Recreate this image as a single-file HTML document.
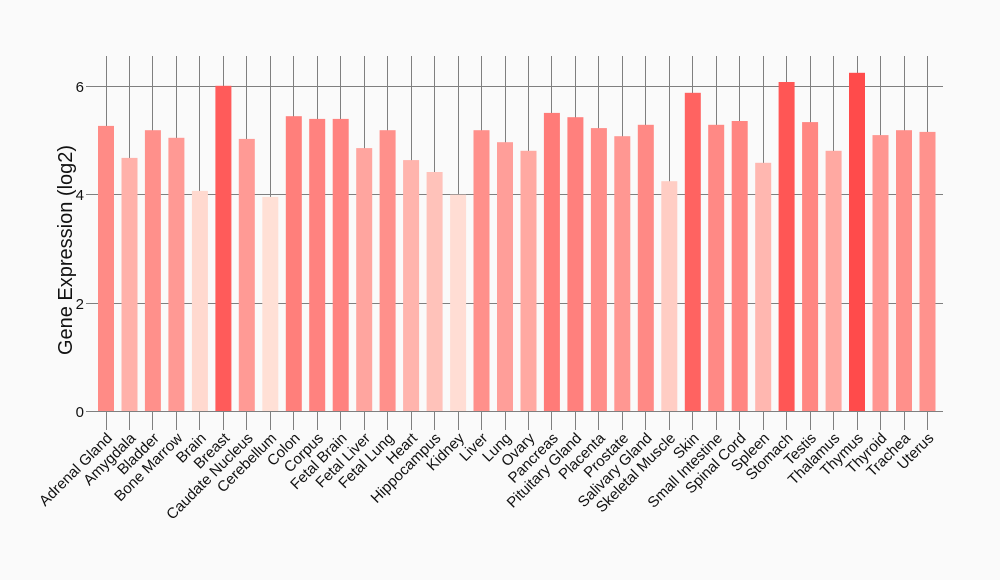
<!DOCTYPE html>
<html><head><meta charset="utf-8"><style>html,body{margin:0;padding:0;background:#fafafa}svg{display:block}text{font-family:"Liberation Sans",sans-serif}</style></head>
<body>
<svg width="1000" height="580" viewBox="0 0 1000 580">
<rect width="1000" height="580" fill="#fafafa"/>
<g stroke="#7f7f7f" stroke-width="1">
<line x1="90" y1="86.5" x2="943" y2="86.5"/><line x1="90" y1="194.5" x2="943" y2="194.5"/><line x1="90" y1="303.5" x2="943" y2="303.5"/><line x1="90" y1="411.5" x2="943" y2="411.5"/>
<line x1="86" y1="86.5" x2="90" y2="86.5"/><line x1="86" y1="194.5" x2="90" y2="194.5"/><line x1="86" y1="303.5" x2="90" y2="303.5"/><line x1="86" y1="411.5" x2="90" y2="411.5"/>
</g>
<g stroke="#7f7f7f" stroke-width="1">
<path d="M106.5 56V430M129.5 56V430M152.5 56V430M176.5 56V430M199.5 56V430M223.5 56V430M246.5 56V430M270.5 56V430M293.5 56V430M317.5 56V430M340.5 56V430M364.5 56V430M387.5 56V430M411.5 56V430M434.5 56V430M458.5 56V430M481.5 56V430M505.5 56V430M528.5 56V430M551.5 56V430M575.5 56V430M598.5 56V430M622.5 56V430M645.5 56V430M669.5 56V430M692.5 56V430M716.5 56V430M739.5 56V430M763.5 56V430M786.5 56V430M810.5 56V430M833.5 56V430M857.5 56V430M880.5 56V430M904.5 56V430M927.5 56V430"/>
</g>
<g>
<rect x="98" y="125.9" width="16" height="285.1" fill="rgb(255,139,134)"/>
<rect x="121.5" y="157.9" width="16" height="253.1" fill="rgb(255,177,170)"/>
<rect x="144.9" y="130.2" width="16" height="280.8" fill="rgb(255,144,139)"/>
<rect x="168.4" y="137.8" width="16" height="273.2" fill="rgb(255,153,148)"/>
<rect x="191.9" y="190.9" width="16" height="220.1" fill="rgb(255,217,207)"/>
<rect x="215.4" y="85.8" width="16" height="325.2" fill="rgb(255,91,90)"/>
<rect x="238.8" y="138.9" width="16" height="272.1" fill="rgb(255,154,149)"/>
<rect x="262.3" y="196.9" width="16" height="214.1" fill="rgb(255,224,214)"/>
<rect x="285.8" y="116.2" width="16" height="294.8" fill="rgb(255,127,123)"/>
<rect x="309.2" y="118.9" width="16" height="292.1" fill="rgb(255,130,127)"/>
<rect x="332.7" y="118.9" width="16" height="292.1" fill="rgb(255,130,127)"/>
<rect x="356.2" y="148.1" width="16" height="262.9" fill="rgb(255,165,159)"/>
<rect x="379.6" y="130.2" width="16" height="280.8" fill="rgb(255,144,139)"/>
<rect x="403.1" y="160.1" width="16" height="250.9" fill="rgb(255,180,173)"/>
<rect x="426.6" y="172" width="16" height="239" fill="rgb(255,194,186)"/>
<rect x="450.1" y="194.7" width="16" height="216.3" fill="rgb(255,221,212)"/>
<rect x="473.5" y="130.2" width="16" height="280.8" fill="rgb(255,144,139)"/>
<rect x="497" y="142.2" width="16" height="268.8" fill="rgb(255,158,153)"/>
<rect x="520.5" y="150.8" width="16" height="260.2" fill="rgb(255,169,162)"/>
<rect x="543.9" y="112.9" width="16" height="298.1" fill="rgb(255,123,120)"/>
<rect x="567.4" y="117.2" width="16" height="293.8" fill="rgb(255,128,125)"/>
<rect x="590.9" y="128.1" width="16" height="282.9" fill="rgb(255,141,137)"/>
<rect x="614.3" y="136.2" width="16" height="274.8" fill="rgb(255,151,146)"/>
<rect x="637.8" y="124.8" width="16" height="286.2" fill="rgb(255,137,133)"/>
<rect x="661.3" y="181.2" width="16" height="229.8" fill="rgb(255,205,196)"/>
<rect x="684.8" y="92.8" width="16" height="318.2" fill="rgb(255,99,97)"/>
<rect x="708.2" y="124.8" width="16" height="286.2" fill="rgb(255,137,133)"/>
<rect x="731.7" y="121" width="16" height="290" fill="rgb(255,133,129)"/>
<rect x="755.2" y="162.8" width="16" height="248.2" fill="rgb(255,183,176)"/>
<rect x="778.6" y="82" width="16" height="329" fill="rgb(255,86,85)"/>
<rect x="802.1" y="122.1" width="16" height="288.9" fill="rgb(255,134,130)"/>
<rect x="825.6" y="150.8" width="16" height="260.2" fill="rgb(255,169,162)"/>
<rect x="849" y="72.8" width="16" height="338.2" fill="rgb(255,75,75)"/>
<rect x="872.5" y="135.1" width="16" height="275.9" fill="rgb(255,150,145)"/>
<rect x="896" y="130.2" width="16" height="280.8" fill="rgb(255,144,139)"/>
<rect x="919.5" y="131.9" width="16" height="279.1" fill="rgb(255,146,141)"/>
</g>
<line x1="90" y1="411.5" x2="943" y2="411.5" stroke="#7f7f7f"/>
<g font-size="15" fill="#111" text-anchor="end">
<text x="84" y="92">6</text><text x="84" y="200">4</text><text x="84" y="309">2</text><text x="84" y="417">0</text>
</g>
<text transform="translate(72,250) rotate(-90)" font-size="20" text-anchor="middle" fill="#111">Gene Expression (log2)</text>
<g font-size="15" fill="#111" text-anchor="end">
<text transform="translate(113,439) rotate(-45)">Adrenal Gland</text>
<text transform="translate(136.5,439) rotate(-45)">Amygdala</text>
<text transform="translate(159.9,439) rotate(-45)">Bladder</text>
<text transform="translate(183.4,439) rotate(-45)">Bone Marrow</text>
<text transform="translate(206.9,439) rotate(-45)">Brain</text>
<text transform="translate(230.4,439) rotate(-45)">Breast</text>
<text transform="translate(253.8,439) rotate(-45)">Caudate Nucleus</text>
<text transform="translate(277.3,439) rotate(-45)">Cerebellum</text>
<text transform="translate(300.8,439) rotate(-45)">Colon</text>
<text transform="translate(324.2,439) rotate(-45)">Corpus</text>
<text transform="translate(347.7,439) rotate(-45)">Fetal Brain</text>
<text transform="translate(371.2,439) rotate(-45)">Fetal Liver</text>
<text transform="translate(394.6,439) rotate(-45)">Fetal Lung</text>
<text transform="translate(418.1,439) rotate(-45)">Heart</text>
<text transform="translate(441.6,439) rotate(-45)">Hippocampus</text>
<text transform="translate(465.1,439) rotate(-45)">Kidney</text>
<text transform="translate(488.5,439) rotate(-45)">Liver</text>
<text transform="translate(512,439) rotate(-45)">Lung</text>
<text transform="translate(535.5,439) rotate(-45)">Ovary</text>
<text transform="translate(558.9,439) rotate(-45)">Pancreas</text>
<text transform="translate(582.4,439) rotate(-45)">Pituitary Gland</text>
<text transform="translate(605.9,439) rotate(-45)">Placenta</text>
<text transform="translate(629.3,439) rotate(-45)">Prostate</text>
<text transform="translate(652.8,439) rotate(-45)">Salivary Gland</text>
<text transform="translate(676.3,439) rotate(-45)">Skeletal Muscle</text>
<text transform="translate(699.8,439) rotate(-45)">Skin</text>
<text transform="translate(723.2,439) rotate(-45)">Small Intestine</text>
<text transform="translate(746.7,439) rotate(-45)">Spinal Cord</text>
<text transform="translate(770.2,439) rotate(-45)">Spleen</text>
<text transform="translate(793.6,439) rotate(-45)">Stomach</text>
<text transform="translate(817.1,439) rotate(-45)">Testis</text>
<text transform="translate(840.6,439) rotate(-45)">Thalamus</text>
<text transform="translate(864,439) rotate(-45)">Thymus</text>
<text transform="translate(887.5,439) rotate(-45)">Thyroid</text>
<text transform="translate(911,439) rotate(-45)">Trachea</text>
<text transform="translate(934.5,439) rotate(-45)">Uterus</text>
</g>
</svg>
</body></html>
